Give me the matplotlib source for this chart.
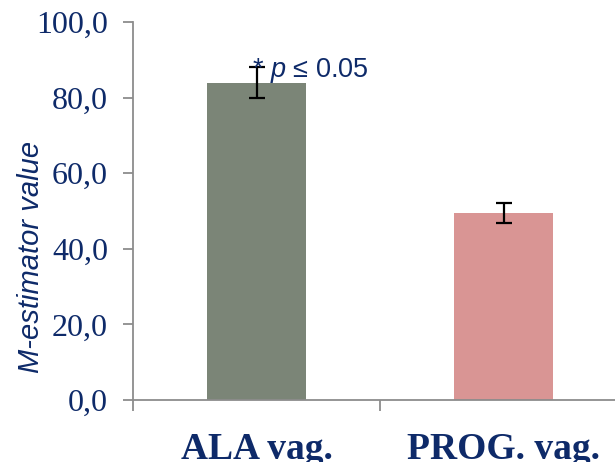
import numpy as np
import matplotlib
matplotlib.use('Agg')
import matplotlib.pyplot as plt
from matplotlib.ticker import FixedLocator, FuncFormatter

groups = ['ALA vag.', 'PROG. vag.']
values = [83.9, 49.5]
errors = [4.1, 2.6]
yticks = [0, 20, 40, 60, 80, 100]

navy = '#0e2a69'
gray = '#8c8c8c'

plt.rcParams['mathtext.fontset'] = 'custom'
plt.rcParams['mathtext.it'] = 'Liberation Sans:italic'
plt.rcParams['mathtext.rm'] = 'Liberation Sans'

fig = plt.figure(figsize=(6.15, 4.62), dpi=100)
ax = fig.add_axes([133/615, 62/462, 494/615, 378/462])

x = np.arange(len(groups))
ax.bar(x, values, width=0.4, color=['#7b8577', '#d99594'], zorder=2)
ax.errorbar(x, values, yerr=errors, fmt='none', ecolor='black',
            elinewidth=1.6, capsize=6, capthick=1.6, zorder=3)

ax.set_xlim(-0.5, 1.5)
ax.set_ylim(0, 100)

ax.set_yticks(yticks)
ax.yaxis.set_major_formatter(FuncFormatter(lambda v, p: ('%.1f' % v).replace('.', ',')))
for lab in ax.get_yticklabels():
    lab.set_fontfamily('Liberation Serif')
    lab.set_fontsize(23)
    lab.set_color(navy)
ax.tick_params(axis='y', length=7, width=1.3, color=gray, pad=11)

ax.set_xticks(x)
ax.set_xticklabels(groups, fontfamily='Liberation Serif', fontsize=27,
                   fontweight='bold', color=navy)
ax.xaxis.set_minor_locator(FixedLocator([-0.5, 0.5, 1.5]))
ax.tick_params(axis='x', which='major', length=0, pad=23)
ax.tick_params(axis='x', which='minor', length=8, width=1.3, color=gray)

for s in ['top', 'right']:
    ax.spines[s].set_visible(False)
for s in ['left', 'bottom']:
    ax.spines[s].set_color(gray)
    ax.spines[s].set_linewidth(1.3)

ax.text(-0.017, 87.2, r'* $\it{p}$ ≤ 0.05', fontfamily='Liberation Sans',
        fontsize=19.5, color=navy, ha='left', va='center', zorder=4)

fig.text(31/615, 1 - 257/462, 'M-estimator value', rotation=90,
         ha='center', va='center', fontfamily='Liberation Sans',
         fontstyle='italic', fontsize=21, color=navy)

fig.savefig('out.png', dpi=100)
